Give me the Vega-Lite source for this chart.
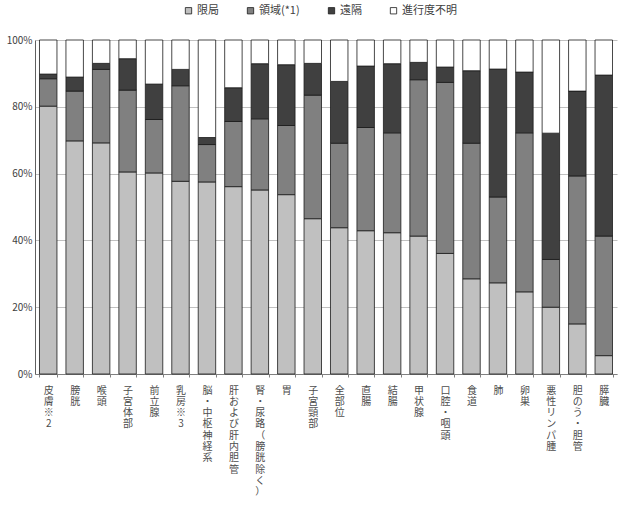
{
  "$schema": "https://vega.github.io/schema/vega-lite/v6.json",
  "autosize": "none",
  "width": 582,
  "height": 334,
  "padding": {"left": 35, "top": 40, "right": 1, "bottom": 141},
  "background": "white",
  "config": {
    "view": {"stroke": null},
    "font": "Noto Sans CJK JP"
  },
  "data": {
    "values": [
      {"site": "皮膚 ※2", "限局": 80.2, "領域(*1)": 8.2, "遠隔": 1.4, "進行度不明": 10.2},
      {"site": "膀胱", "限局": 69.8, "領域(*1)": 14.9, "遠隔": 4.2, "進行度不明": 11.1},
      {"site": "喉頭", "限局": 69.2, "領域(*1)": 22.0, "遠隔": 1.8, "進行度不明": 7.0},
      {"site": "子宮体部", "限局": 60.5, "領域(*1)": 24.5, "遠隔": 9.4, "進行度不明": 5.6},
      {"site": "前立腺", "限局": 60.2, "領域(*1)": 16.0, "遠隔": 10.6, "進行度不明": 13.2},
      {"site": "乳房 ※3", "限局": 57.7, "領域(*1)": 28.6, "遠隔": 4.9, "進行度不明": 8.8},
      {"site": "脳・中枢神経系", "限局": 57.5, "領域(*1)": 11.2, "遠隔": 2.1, "進行度不明": 29.2},
      {"site": "肝および肝内胆管", "限局": 56.1, "領域(*1)": 19.5, "遠隔": 10.1, "進行度不明": 14.3},
      {"site": "腎・尿路（膀胱除く）", "限局": 55.1, "領域(*1)": 21.3, "遠隔": 16.5, "進行度不明": 7.1},
      {"site": "胃", "限局": 53.7, "領域(*1)": 20.7, "遠隔": 18.2, "進行度不明": 7.4},
      {"site": "子宮頸部", "限局": 46.5, "領域(*1)": 37.0, "遠隔": 9.5, "進行度不明": 7.0},
      {"site": "全部位", "限局": 43.8, "領域(*1)": 25.3, "遠隔": 18.5, "進行度不明": 12.4},
      {"site": "直腸", "限局": 42.9, "領域(*1)": 30.9, "遠隔": 18.4, "進行度不明": 7.8},
      {"site": "結腸", "限局": 42.3, "領域(*1)": 29.9, "遠隔": 20.7, "進行度不明": 7.1},
      {"site": "甲状腺", "限局": 41.3, "領域(*1)": 46.8, "遠隔": 5.2, "進行度不明": 6.7},
      {"site": "口腔・咽頭", "限局": 36.1, "領域(*1)": 51.2, "遠隔": 4.6, "進行度不明": 8.1},
      {"site": "食道", "限局": 28.5, "領域(*1)": 40.6, "遠隔": 21.7, "進行度不明": 9.2},
      {"site": "肺", "限局": 27.3, "領域(*1)": 25.7, "遠隔": 38.3, "進行度不明": 8.7},
      {"site": "卵巣", "限局": 24.6, "領域(*1)": 47.6, "遠隔": 18.2, "進行度不明": 9.6},
      {"site": "悪性リンパ腫", "限局": 20.0, "領域(*1)": 14.3, "遠隔": 37.8, "進行度不明": 27.9},
      {"site": "胆のう・胆管", "限局": 15.0, "領域(*1)": 44.3, "遠隔": 25.4, "進行度不明": 15.3},
      {"site": "膵臓", "限局": 5.5, "領域(*1)": 35.8, "遠隔": 48.2, "進行度不明": 10.5}
    ]
  },
  "transform": [
    {"fold": ["限局", "領域(*1)", "遠隔", "進行度不明"], "as": ["stage", "pct"]},
    {"window": [{"op": "row_number", "as": "stage_rank"}], "groupby": ["site"]}
  ],
  "mark": {"type": "bar", "stroke": "#1a1a1a", "strokeWidth": 0.8},
  "encoding": {
    "x": {
      "field": "site",
      "type": "nominal",
      "sort": null,
      "scale": {"paddingInner": 0.34, "paddingOuter": 0.17},
      "axis": {
        "title": null,
        "labelAngle": 0,
        "labelAlign": "center",
        "labelBaseline": "top",
        "labelPadding": 8,
        "labelFontSize": 10,
        "labelLineHeight": 11.3,
        "labelColor": "#4d4d4d",
        "labelOverlap": false,
        "labelBound": false,
        "labelExpr": "split(datum.label, '')",
        "tickBand": "extent",
        "tickSize": 3,
        "tickColor": "#808080",
        "domainColor": "#808080"
      }
    },
    "y": {
      "field": "pct",
      "type": "quantitative",
      "stack": "zero",
      "scale": {"domain": [0, 100], "nice": false},
      "axis": {
        "title": null,
        "values": [0, 20, 40, 60, 80, 100],
        "labelExpr": "datum.value + '%'",
        "labelFontSize": 10,
        "labelColor": "#404040",
        "labelPadding": 3,
        "ticks": false,
        "grid": true,
        "gridColor": "#c0c0c0",
        "domainColor": "#606060"
      }
    },
    "order": {"field": "stage_rank", "type": "quantitative", "sort": "ascending"},
    "color": {
      "field": "stage",
      "type": "nominal",
      "sort": ["限局", "領域(*1)", "遠隔", "進行度不明"],
      "scale": {
        "domain": ["限局", "領域(*1)", "遠隔", "進行度不明"],
        "range": ["#c0c0c0", "#808080", "#404040", "#ffffff"]
      },
      "legend": {
        "title": null,
        "orient": "none",
        "direction": "horizontal",
        "legendX": 148,
        "legendY": -35,
        "symbolType": "square",
        "symbolSize": 40,
        "symbolStrokeColor": "#1a1a1a",
        "symbolStrokeWidth": 0.8,
        "labelFontSize": 11,
        "labelColor": "#404040",
        "labelOffset": 3,
        "columnPadding": 26
      }
    }
  }
}
